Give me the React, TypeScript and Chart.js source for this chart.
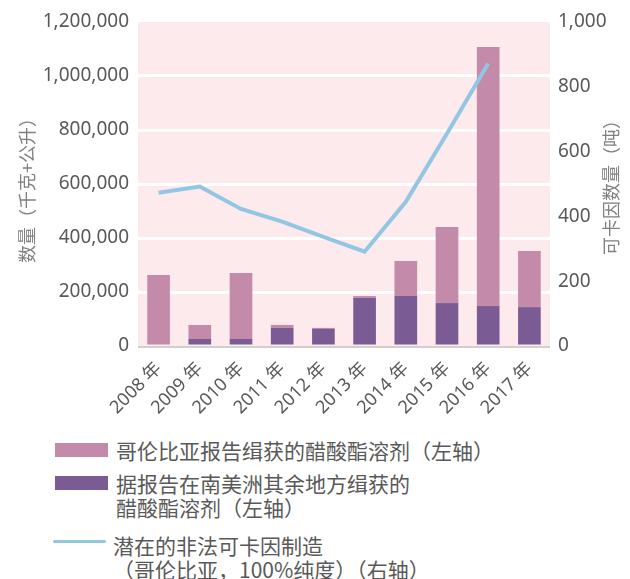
import React, { useEffect, useRef } from "react";
import { Chart, registerables } from "chart.js";

Chart.register(...registerables);

const years = ["2008 年", "2009 年", "2010 年", "2011 年", "2012 年", "2013 年", "2014 年", "2015 年", "2016 年", "2017 年"];
// 据报告在南美洲其余地方缉获的醋酸酯溶剂 (kg + L)
const southAmericaSeizures = [0, 26000, 26000, 67000, 63000, 178000, 185000, 159000, 148000, 144000];
// 哥伦比亚报告缉获的醋酸酯溶剂 (kg + L)
const colombiaSeizures = [263000, 52000, 244000, 11000, 4000, 7000, 130000, 282000, 959000, 208000];
// 潜在的非法可卡因制造 (tons)
const cocaineProduction = [473, 492, 423, 384, 337, 291, 445, 656, 872, null];

const leftMax = 1200000;
const leftStep = 200000;
const rightMax = 1000;
const rightStep = 200;

const PINK = "#C48AAA";
const PURPLE = "#7B5B93";
const BLUE = "#93C6E2";
const BG = "#FCEAEC";
const TICK = "#595959";
const LATIN = '"Noto Sans", "Noto Sans CJK SC", sans-serif';
const CJK = '"Noto Sans CJK SC", "Noto Sans", sans-serif';

const bgPlugin = {
  id: "plotBg",
  beforeDraw(chart: any) {
    const { ctx, chartArea } = chart;
    ctx.save();
    ctx.fillStyle = BG;
    ctx.fillRect(chartArea.left, chartArea.top, chartArea.right - chartArea.left, chartArea.bottom - chartArea.top);
    ctx.restore();
  },
};

const baselinePlugin = {
  id: "baseline",
  afterDatasetsDraw(chart: any) {
    const { ctx, chartArea } = chart;
    ctx.save();
    ctx.strokeStyle = "#D0D0D0";
    ctx.lineWidth = 2;
    ctx.beginPath();
    ctx.moveTo(chartArea.left, chartArea.bottom + 1);
    ctx.lineTo(chartArea.right, chartArea.bottom + 1);
    ctx.stroke();
    ctx.restore();
  },
};

const titlesPlugin = {
  id: "axisTitles",
  afterDraw(chart: any) {
    const { ctx } = chart;
    ctx.save();
    ctx.fillStyle = "#808080";
    ctx.font = `18px ${CJK}`;
    ctx.textAlign = "center";
    ctx.textBaseline = "middle";
    ctx.translate(27, 186);
    ctx.rotate(-Math.PI / 2);
    ctx.fillText("数量（千克+公升）", 0, 0);
    ctx.restore();
    ctx.save();
    ctx.fillStyle = "#808080";
    ctx.font = `18px ${CJK}`;
    ctx.textAlign = "center";
    ctx.textBaseline = "middle";
    ctx.translate(611, 183);
    ctx.rotate(-Math.PI / 2);
    ctx.fillText("可卡因数量（吨）", 0, 0);
    ctx.restore();
  },
};

export default function App() {
  const ref = useRef<HTMLCanvasElement>(null);

  useEffect(() => {
    if (!ref.current) return;
    const chart = new Chart(ref.current, {
      type: "bar",
      data: {
        labels: years,
        datasets: [
          {
            type: "line",
            label: "潜在的非法可卡因制造（哥伦比亚，100%纯度）（右轴）",
            data: cocaineProduction as any,
            yAxisID: "y1",
            borderColor: BLUE,
            backgroundColor: BLUE,
            borderWidth: 4,
            pointRadius: 0,
            tension: 0,
            order: 0,
          } as any,
          {
            label: "据报告在南美洲其余地方缉获的醋酸酯溶剂（左轴）",
            data: southAmericaSeizures,
            backgroundColor: PURPLE,
            yAxisID: "y",
            barPercentage: 0.55,
            categoryPercentage: 1,
            order: 1,
          },
          {
            label: "哥伦比亚报告缉获的醋酸酯溶剂（左轴）",
            data: colombiaSeizures,
            backgroundColor: PINK,
            yAxisID: "y",
            barPercentage: 0.55,
            categoryPercentage: 1,
            order: 1,
          },
        ],
      },
      options: {
        responsive: false,
        animation: false,
        layout: { padding: { top: 22, left: 0, right: 0, bottom: 0 } },
        plugins: { legend: { display: false }, tooltip: { enabled: false } },
        scales: {
          x: {
            stacked: true,
            grid: { display: false },
            border: { display: false },
            ticks: {
              maxRotation: 45,
              minRotation: 45,
              color: TICK,
              padding: 4,
              font: { size: 18, family: LATIN },
            },
            afterFit: (s: any) => {
              s.height = 74;
            },
          },
          y: {
            stacked: true,
            position: "left",
            min: 0,
            max: leftMax,
            ticks: {
              stepSize: leftStep,
              color: TICK,
              padding: 9,
              font: { size: 19, family: LATIN },
              callback: (v: any) => Number(v).toLocaleString("en-US"),
            },
            grid: {
              drawTicks: false,
              lineWidth: 3,
              color: (c: any) =>
                c.tick && (c.tick.value === 0 || c.tick.value === leftMax) ? "rgba(0,0,0,0)" : "#FFFFFF",
            },
            border: { display: false },
            afterFit: (s: any) => {
              s.width = 138;
            },
          },
          y1: {
            position: "right",
            min: 0,
            max: rightMax,
            ticks: {
              stepSize: rightStep,
              color: TICK,
              padding: 8,
              font: { size: 19, family: LATIN },
              callback: (v: any) => Number(v).toLocaleString("en-US"),
            },
            grid: { display: false, drawTicks: false },
            border: { display: false },
            afterFit: (s: any) => {
              s.width = 80;
            },
          },
        },
      },
      plugins: [bgPlugin, baselinePlugin, titlesPlugin],
    });
    return () => chart.destroy();
  }, []);

  const textStyle: React.CSSProperties = {
    position: "absolute",
    font: `21px ${CJK}`,
    lineHeight: "24px",
    color: TICK,
    whiteSpace: "nowrap",
  };

  return (
    <div style={{ position: "absolute", left: 0, top: 0, width: 630, height: 579, background: "#fff" }}>
      <canvas ref={ref} width={630} height={420} style={{ position: "absolute", left: 0, top: 0, display: "block" }} />
      <div style={{ position: "absolute", left: 55, top: 443, width: 53, height: 14, background: PINK }} />
      <div style={{ ...textStyle, left: 116, top: 438 }}>哥伦比亚报告缉获的醋酸酯溶剂（左轴）</div>
      <div style={{ position: "absolute", left: 55, top: 476, width: 53, height: 14, background: PURPLE }} />
      <div style={{ ...textStyle, left: 116, top: 471 }}>
        据报告在南美洲其余地方缉获的
        <br />
        醋酸酯溶剂（左轴）
      </div>
      <div style={{ position: "absolute", left: 53, top: 540, width: 53, height: 3, background: BLUE, borderRadius: 2 }} />
      <div style={{ ...textStyle, left: 113, top: 533 }}>
        潜在的非法可卡因制造
        <br />
        （哥伦比亚，100%纯度）（右轴）
      </div>
    </div>
  );
}
